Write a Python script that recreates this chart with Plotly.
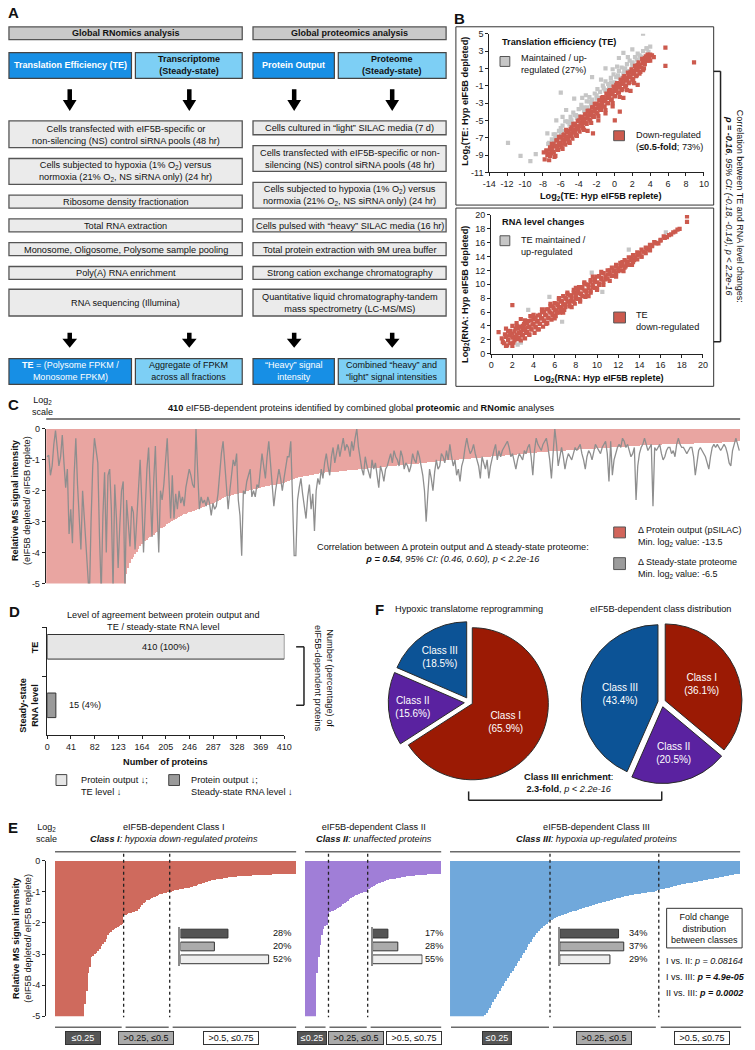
import plotly.graph_objects as go

W, H = 755, 1050
FONT = "Liberation Sans, Arial, sans-serif"

# ======================= DATA =======================
# Panel B (top): log2 TE, hypoxic eIF5B replete (x) vs eIF5B depleted (y)
te_down_pts = [(-7.9,-8.7),(-7.8,-9.5),(-7.6,-8.5),(-7.5,-9.0),(-7.3,-9.6),(-7.2,-8.3),(-7.1,-8.8),(-6.9,-8.0),
    (-6.8,-8.6),(-6.7,-9.2),(-6.5,-7.3),(-6.4,-7.9),(-6.3,-8.4),(-6.1,-7.0),(-6.0,-7.6),(-5.9,-8.1),(-5.7,-6.7),
    (-5.6,-7.2),(-5.5,-7.8),(-5.3,-6.4),(-5.2,-6.9),(-5.1,-7.5),(-4.9,-6.0),(-4.8,-6.5),(-4.7,-7.1),(-4.5,-5.6),
    (-4.4,-6.1),(-4.3,-6.7),(-4.1,-5.1),(-4.0,-5.7),(-3.9,-6.3),(-3.7,-4.7),(-3.6,-5.2),(-3.5,-5.9),(-3.3,-4.3),
    (-3.2,-4.8),(-3.1,-5.4),(-3.0,-6.2),(-2.9,-3.9),(-2.8,-4.4),(-2.7,-5.0),(-2.5,-3.5),(-2.4,-4.0),(-2.3,-4.6),
    (-2.4,-6.5),(-2.1,-3.1),(-2.0,-3.6),(-1.9,-4.2),(-1.8,-5.0),(-1.7,-2.7),(-1.6,-3.2),(-1.5,-3.8),(-1.3,-2.3),
    (-1.2,-2.8),(-1.1,-3.4),(-1.0,-4.2),(-0.9,-1.9),(-0.8,-2.4),(-0.7,-3.0),(-0.5,-1.5),(-0.4,-2.0),(-0.3,-2.6),
    (-0.2,-3.4),(-0.1,-1.1),(0.0,-1.6),(0.04,-5.0),(0.1,-2.2),(0.3,-0.7),(0.4,-1.2),(0.5,-1.8),(0.6,-4.0),
    (0.7,-0.3),(0.8,-0.8),(0.9,-1.4),(1.0,-2.4),(1.1,0.1),(1.2,-0.4),(1.3,-1.0),(1.5,0.5),(1.6,0.0),(1.7,-0.6),
    (1.8,-1.6),(1.9,0.9),(2.0,0.4),(2.1,-0.2),(2.3,1.3),(2.4,0.8),(2.5,0.2),(2.6,-0.9),(2.7,1.7),(2.8,1.2),
    (2.9,0.6),(3.1,2.1),(3.2,1.6),(3.3,1.0),(3.5,2.4),(3.6,1.9),(3.7,2.6),(3.9,2.2),(4.0,1.9),(4.2,2.5),(4.4,2.3),
    (5.7,3.4),(5.7,1.3),(8.9,1.7),(-7.0,-7.7),(-6.2,-6.9),(-5.4,-6.1),(-4.6,-5.4),(-3.8,-4.6),(-3.0,-3.9),
    (-2.2,-3.1),(-1.4,-2.4),(-0.6,-1.6),(0.2,-0.9),(1.0,-0.1),(1.8,0.6),(2.6,1.4),(3.4,2.2),
    (-7.6,-8.5),(-7.2,-8.1),(-6.8,-7.7),(-6.4,-7.3),(-6.0,-6.9),(-5.6,-6.6),(-5.2,-6.2),(-4.8,-5.8),(-4.4,-5.4),
    (-4.0,-5.0),(-3.6,-4.6),(-3.2,-4.3),(-2.8,-3.9),(-2.4,-3.5),(-2.0,-3.1),(-1.6,-2.7),(-1.2,-2.4),(-0.8,-2.0),
    (-0.4,-1.6),(0.0,-1.2),(0.4,-0.8),(0.8,-0.5),(1.2,-0.1),(1.6,0.3),(2.0,0.7),(2.4,1.1),(2.8,1.4),(3.2,1.8),
    (3.6,2.2),(4.0,2.6),
    (-7.4,-8.8),(-7.0,-8.4),(-6.6,-8.0),(-6.2,-7.6),(-5.8,-7.2),(-5.4,-6.9),(-5.0,-6.5),(-4.6,-6.1),(-4.2,-5.7),
    (-3.8,-5.3),(-3.4,-5.0),(-3.0,-4.6),(-2.6,-4.2),(-2.2,-3.8),(-1.8,-3.4),(-1.4,-3.1),(-1.0,-2.7),(-0.6,-2.3),
    (-0.2,-1.9),(0.2,-1.5),(0.6,-1.2),(1.0,-0.8),(1.4,-0.4),(1.8,0.0),(2.2,0.4),(2.6,0.8),(3.0,1.1),(3.4,1.5),
    (3.8,1.9),
    (-7.2,-9.1),(-6.8,-8.7),(-6.4,-8.3),(-6.0,-7.9),(-5.6,-7.6),(-5.2,-7.2),(-4.8,-6.8),(-4.4,-6.4),(-4.0,-6.0),
    (-3.6,-5.6),(-3.2,-5.3),(-2.8,-4.9),(-2.4,-4.5),(-2.0,-4.1),(-1.6,-3.7),(-1.2,-3.4),(-0.8,-3.0),(-0.4,-2.6),
    (0.0,-2.2),(0.4,-1.8),(0.8,-1.5),(1.2,-1.1),(1.6,-0.7),(2.0,-0.3),(2.4,0.1),(2.8,0.4),(3.2,0.8),
    (-6.6,-9.1),(-5.8,-8.3),(-5.0,-7.6),(-4.2,-6.8),(-3.4,-6.1),(-2.6,-5.3),(-1.8,-4.5),(-1.0,-3.8),(-0.2,-3.0),
    (0.6,-2.3),(1.4,-1.5),(2.2,-0.7)]
te_up_pts = [(-7.0,-7.2),(-6.6,-6.6),(-6.2,-6.2),(-5.8,-5.6),(-5.5,-5.1),(-5.2,-5.2),(-4.9,-4.6),(-4.6,-4.1),
    (-4.3,-4.4),(-4.0,-3.7),(-3.7,-3.2),(-3.4,-3.5),(-3.1,-2.8),(-2.8,-2.3),(-2.5,-2.6),(-2.2,-1.9),(-1.9,-1.4),
    (-1.6,-1.7),(-1.3,-1.0),(-1.0,-0.5),(-0.7,-0.8),(-0.4,-0.1),(-0.1,0.3),(0.2,0.0),(0.5,0.7),(0.8,1.1),
    (1.1,0.8),(1.4,1.5),(1.7,1.9),(2.0,1.6),(2.3,2.3),(2.6,2.7),(2.9,2.4),(3.2,3.0),(3.6,3.3),(4.0,3.5),
    (-6.8,-7.3),(-6.0,-6.5),(-5.0,-5.5),(-4.0,-4.5),(-3.0,-3.5),(-2.0,-2.5),(-1.0,-1.5),(0.0,-0.6),(1.0,0.4),
    (2.0,1.3),(3.0,2.3),(-11.9,-7.6),(-10.5,-9.1),(-9.4,-9.7),(-8.8,-8.9),(-6.0,-1.8),(-5.4,-3.8),(-4.5,-2.5),
    (-2.5,0.0),(-1.0,1.0),(0.5,2.2),(3.2,5.0),(-7.5,-6.5),(-6.5,-5.0),(1.0,2.8),(2.0,3.2),(-5.8,-4.6),
    (-3.6,-2.4),(-1.5,-0.3),(0.3,1.2),(1.5,2.3),(-7.3,-7.6),(-4.8,-5.0),(-2.6,-2.9),(-0.6,-1.1),(1.3,0.7),
    (2.5,2.0),(-3.2,-2.1),(-0.2,0.9),
    (-7.4,-7.7),(-6.6,-7.0),(-5.8,-6.2),(-5.0,-5.4),(-4.2,-4.7),(-3.4,-3.9),(-2.6,-3.1),(-1.8,-2.4),(-1.0,-1.6),
    (-0.2,-0.9),(0.6,-0.1),(1.4,0.7),(2.2,1.4),(3.0,2.2),(3.8,2.9),
    (-6.8,-6.6),(-6.0,-5.9),(-5.2,-5.1),(-4.4,-4.4),(-3.6,-3.6),(-2.8,-2.8),(-2.0,-2.1),(-1.2,-1.3),(-0.4,-0.6),
    (0.4,0.2),(1.2,1.0),(2.0,1.7),(2.8,2.5),(3.6,3.3)]
# Panel B (bottom): log2 RNA level, replete (x) vs depleted (y)
rna_down_pts = [(0.7,3.1),(1.0,2.2),(1.1,1.7),(1.3,2.8),(1.4,3.6),(1.6,2.0),(1.7,2.6),(1.8,3.3),(2.0,2.9),
    (2.0,4.0),(2.1,1.6),(2.2,2.4),(2.3,3.6),(2.4,4.4),(2.5,2.1),(2.6,3.0),(2.7,3.9),(2.8,5.0),(2.9,2.6),
    (3.0,3.4),(3.1,4.3),(3.2,2.2),(3.3,3.0),(3.4,3.8),(3.5,4.7),(3.6,2.8),(3.7,5.4),(3.8,3.5),(3.9,4.2),
    (4.0,5.0),(4.1,3.0),(4.2,3.8),(4.3,4.6),(4.4,5.5),(4.5,3.5),(4.6,4.3),(4.7,5.1),(4.8,6.0),(4.9,3.9),
    (5.0,4.8),(5.1,5.6),(5.2,6.4),(5.3,4.4),(5.4,5.2),(5.5,6.1),(5.6,6.9),(5.7,4.9),(5.8,5.7),(5.9,6.6),
    (6.0,7.3),(6.1,5.4),(6.2,6.2),(6.3,7.0),(6.4,7.8),(6.5,5.9),(6.6,6.7),(6.7,7.5),(6.8,8.3),(6.9,6.3),
    (7.0,7.1),(7.1,7.9),(7.2,8.6),(7.4,6.8),(7.5,7.6),(7.6,8.4),(7.8,9.2),(7.9,7.2),(8.0,8.0),(8.1,8.8),
    (8.3,9.6),(8.4,7.8),(8.5,8.6),(8.6,9.4),(8.8,10.1),(8.9,8.2),(9.0,9.1),(9.2,9.9),(9.4,10.6),(9.4,8.8),
    (9.6,9.6),(9.8,10.4),(10.0,11.1),(10.0,9.3),(10.2,10.1),(10.4,10.9),(10.6,11.6),(10.6,9.9),(10.8,10.7),
    (11.0,11.4),(11.2,12.0),(11.2,10.5),(11.4,11.3),(11.6,12.0),(11.8,12.6),(11.8,11.1),(12.0,11.9),(12.2,12.6),
    (12.4,13.2),(12.5,11.9),(12.7,12.6),(12.9,13.3),(13.2,13.8),(13.3,12.8),(13.5,13.5),(13.8,14.2),(14.0,14.5),
    (14.2,14.0),(14.4,14.7),(14.7,15.2),(15.0,15.0),(15.2,15.6),(15.5,16.0),(15.8,15.9),(16.0,16.4),(16.3,16.9),
    (16.6,16.8),(17.0,17.2),(17.4,17.6),(17.8,18.0),(18.5,19.8),(18.5,19.0),(2.0,7.0),(1.5,1.2),
    (1.2,1.5),(1.6,1.9),(2.0,2.3),(2.4,2.7),(2.8,3.1),(3.2,3.5),(3.6,3.9),(4.0,4.3),(4.4,4.7),(4.8,5.1),(5.2,5.5),
    (5.6,5.9),(6.0,6.3),(6.4,6.7),(6.8,7.1),(7.2,7.5),(7.6,7.9),(8.0,8.3),(8.4,8.7),(8.8,9.1),(9.2,9.5),(9.6,9.9),
    (10.0,10.3),(10.4,10.7),(10.8,11.1),(11.2,11.5),(11.6,11.9),(12.0,12.3),(12.4,12.7),(12.8,13.1),(13.2,13.5),
    (13.6,13.9),(14.0,14.3),(14.4,14.7),(14.8,15.1),(15.2,15.5),(15.6,15.9),(16.0,16.3),(16.4,16.7),(16.8,17.1),
    (17.2,17.5),(17.6,17.9),
    (1.4,2.4),(1.8,2.8),(2.2,3.2),(2.6,3.6),(3.0,4.0),(3.4,4.4),(3.8,4.8),(4.2,5.2),(4.6,5.6),(5.0,6.0),(5.4,6.4),
    (5.8,6.8),(6.2,7.2),(6.6,7.6),(7.0,8.0),(7.4,8.4),(7.8,8.8),(8.2,9.2),(8.6,9.6),(9.0,10.0),(9.4,10.4),(9.8,10.8),
    (10.2,11.2),(10.6,11.6),(11.0,12.0),(11.4,12.4),(11.8,12.8),(12.2,13.1),(12.6,13.5),(13.0,13.9),(13.4,14.2),
    (13.8,14.6),(14.2,15.0),(14.6,15.3),(15.0,15.7),(15.4,16.1),
    (1.4,1.1),(1.8,1.5),(2.2,1.9),(2.6,2.3),(3.0,2.7),(3.4,3.1),(3.8,3.5),(4.2,3.9),(4.6,4.3),(5.0,4.7),(5.4,5.1),
    (5.8,5.5),(6.2,5.9),(6.6,6.3),(7.0,6.7),(7.4,7.1),(7.8,7.5),(8.2,7.9),(8.6,8.3),(9.0,8.7),(9.4,9.1),(9.8,9.5),
    (10.2,9.9),(10.6,10.4),(11.0,10.8),(11.4,11.2),(11.8,11.6),(12.2,12.0),(12.6,12.4),(13.0,12.8),(13.4,13.2),
    (13.8,13.6),(14.2,14.0),(14.6,14.5),(15.0,14.9),
    (1.6,3.2),(2.4,4.0),(3.2,4.8),(4.0,5.6),(4.8,6.4),(5.6,7.2),(6.4,8.0),(7.2,8.8),(8.0,9.5),(8.8,10.3),(9.6,11.1),
    (10.4,11.8),(2.0,1.1),(2.8,1.9),(3.6,2.7),(4.4,3.5),(5.2,4.3),(6.0,5.1),(6.8,5.9),(7.6,6.7),(8.4,7.5),(9.2,8.3),
    (10.0,9.2)]
rna_up_pts = [(2.8,1.6),(6.7,4.6),(9.5,11.7),(10.5,8.9),(5.5,8.2),(13.0,15.0),(16.5,17.5),(3.5,6.3),(2.5,1.3)]
te_xticks = [-14, -12, -10, -8, -6, -4, -2, 0, 2, 4, 6, 8, 10]
te_yticks = [-11, -9, -7, -5, -3, -1, 1, 3, 5]
rna_ticks = [0, 2, 4, 6, 8, 10, 12, 14, 16, 18, 20]

# Panel C: 410 eIF5B-dependent proteins (log2 depleted/replete)
protein_output = [
    -13.5,-11.2,-10.1,-9.4,-8.8,-8.3,-7.9,-7.6,-7.3,-7.1,-6.9,-6.7,-6.6,-6.5,-6.4,-6.3,-6.2,-6.1,-6.0,-5.95,
    -5.9,-5.85,-5.8,-5.75,-5.7,-5.65,-5.6,-5.55,-5.5,-5.45,-5.4,-5.38,-5.35,-5.32,-5.3,-5.27,-5.24,-5.21,-5.18,-5.15,
    -5.12,-5.1,-5.08,-5.06,-5.04,-5.02,-5.01,
    -4.7,-4.5,-4.35,-4.22,-4.15,-4.05,-3.97,-3.88,-3.8,-3.72,-3.66,
    -3.62,-3.58,-3.53,-3.49,-3.46,-3.42,-3.37,-3.32,-3.27,-3.22,
    -3.2,-3.17,-3.13,-3.09,-3.05,-3.01,-2.98,-2.95,-2.91,-2.88,-2.84,-2.81,-2.78,
    -2.76,-2.74,-2.72,-2.7,-2.68,-2.66,-2.64,-2.62,-2.6,-2.58,-2.56,-2.54,-2.52,-2.5,-2.47,-2.45,
    -2.44,-2.42,-2.39,-2.36,-2.33,-2.3,-2.27,-2.24,-2.21,-2.18,-2.17,-2.16,-2.14,-2.13,-2.12,-2.1,-2.09,
    -2.08,-2.07,-2.05,-2.04,-2.02,-2.0,-1.99,-1.97,-1.96,-1.94,-1.93,-1.91,-1.9,-1.88,-1.87,-1.86,-1.85,-1.84,
    -1.83,-1.82,-1.81,-1.8,-1.79,-1.78,-1.77,
    -1.76,-1.74,-1.72,-1.7,-1.68,-1.66,-1.64,-1.62,-1.6,-1.58,-1.56,-1.55,-1.54,-1.53,-1.52,-1.51,-1.5,-1.49,
    -1.48,-1.47,-1.46,-1.45,-1.44,-1.43,-1.42,-1.42,-1.41,-1.41,-1.4,-1.4,-1.39,-1.39,-1.38,
    -1.38,-1.37,-1.37,-1.36,-1.35,-1.35,-1.34,-1.34,-1.33,-1.33,-1.32,-1.32,-1.31,-1.31,-1.3,-1.3,-1.29,-1.29,-1.28,
    -1.28,-1.27,-1.27,-1.26,-1.25,-1.25,-1.24,-1.23,-1.23,-1.22,-1.21,-1.21,-1.2,-1.2,-1.19,-1.19,-1.18,-1.18,-1.17,
    -1.17,-1.16,-1.16,-1.15,-1.15,-1.14,-1.13,-1.13,-1.12,-1.12,-1.11,-1.1,-1.1,-1.09,-1.09,-1.08,-1.08,-1.07,-1.07,-1.06,
    -1.06,-1.05,-1.05,-1.04,-1.04,-1.03,-1.02,-1.02,-1.01,-1.01,-1.0,-1.0,-0.99,-0.99,-0.98,-0.98,-0.97,-0.97,-0.96,
    -0.96,-0.96,-0.95,-0.95,-0.94,-0.94,-0.93,-0.93,-0.92,-0.92,-0.91,-0.91,-0.9,-0.9,-0.89,-0.89,-0.88,-0.88,
    -0.87,-0.87,-0.86,-0.86,-0.85,
    -0.85,-0.85,-0.84,-0.84,-0.83,-0.83,-0.82,-0.82,-0.81,-0.81,-0.8,-0.8,-0.79,-0.79,-0.78,-0.78,-0.77,-0.77,
    -0.76,-0.76,-0.75,-0.75,-0.74,
    -0.74,-0.74,-0.73,-0.73,-0.73,-0.72,-0.72,-0.71,-0.71,-0.71,-0.7,-0.7,-0.69,-0.69,-0.69,-0.68,-0.68,-0.67,
    -0.67,-0.67,-0.66,-0.66,-0.66,-0.65,-0.65,-0.65,-0.64,-0.64,-0.64,
    -0.64,-0.63,-0.63,-0.63,-0.62,-0.62,-0.61,-0.61,-0.61,-0.6,-0.6,-0.59,-0.59,-0.59,-0.58,-0.58,-0.57,-0.57,
    -0.57,-0.56,-0.56,-0.55,-0.55,-0.55,-0.54,-0.54,-0.54,-0.53,-0.53,
    -0.53,-0.53,-0.52,-0.52,-0.52,-0.52,-0.51,-0.51,-0.51,-0.51,-0.51,-0.5,-0.5,-0.5,-0.5,-0.5,-0.49,-0.49,
    -0.49,-0.49,-0.49,-0.49,-0.48,-0.48,-0.48,-0.48,-0.48,-0.48,-0.48,
    -0.48,-0.47,-0.47,-0.47,-0.47,-0.46,-0.46,-0.46,-0.46,-0.45,-0.45,-0.45,-0.45,-0.44,-0.44,-0.44,-0.44,-0.43,
    -0.43,-0.43,-0.42,-0.42,-0.42,-0.41,-0.41,-0.41,-0.4,-0.4]
steady_proteome = [
    -0.9,-0.85,-1.5,-1.2,-0.5,-0.05,-0.6,-1.2,-0.9,-0.2, -1.1,-1.9,-1.3,-3.4,-2.6,-3.7,-1.5,-0.3,-1.8,-2.9,
    -3.9,-2.0,-2.8,-3.7,-4.4,-5.5,-3.0,-1.2,-0.3,-0.7, -1.1,-3.5,-5.3,-2.8,-1.4,-4.0,-1.5,-1.3,-2.6,-5.2,
    -1.8,-2.9,-4.5,-3.1,-2.0,-1.7,-5.2,-2.3,-3.0,-3.8, -2.5,-2.7,-3.9,-2.8,-1.9,-1.0,-2.4,-4.0,-2.6,-1.3,
    -0.6,-1.9,-3.5,-1.7,-0.55,-2.5,-4.0,-2.0,-2.3,-1.8, -1.0,-0.3,-1.6,-2.9,-1.5,-2.9,-2.1,-2.6,-2.0,-2.4,
    -2.2,-2.5,-1.9,-1.6,-1.3,-1.5,-1.8,-1.9,0.0,-1.4, -2.6,-2.2,-2.4,-2.3,-2.5,-2.2,-2.4,-2.8,-2.4,-2.6,
    -2.5,-2.1,-1.3,-0.8,-0.4,-1.2,-1.9,-2.6,-2.0,-1.4, -1.0,-1.2,-0.8,-2.3,-2.8,-4.1,-2.0,-2.1,-1.7,-1.5,
    -1.3,-2.2,-2.0,-2.2,-1.8,-1.9,-1.4,-0.8,-1.2,-1.6, -0.9,-0.4,-1.1,-1.8,-2.5,-2.0,-1.7,-1.3,-1.6,-2.0,
    -1.6,-1.2,-0.9,-0.9,-0.4,-2.2,-4.1,-4.1,-2.3,-1.9, -1.6,-2.1,-2.5,-2.9,-2.2,-1.8,-2.6,-2.1,-3.3,-2.0,
    -1.6,-1.8,-1.3,-1.6,-1.1,-0.8,-1.2,-1.5,-0.9,-0.6, -1.1,-0.8,-0.5,-0.9,-0.6,-0.3,-0.7,-0.5,-0.6,-0.9,
    -0.4,-0.7,-0.3,0.0,-0.6,-1.0,-1.3,-1.5,-0.9,-1.2, -1.4,-1.6,-1.0,-1.3,-1.1,-1.5,-1.9,-1.2,-1.4,-1.7,
    -1.3,-1.2,-1.0,-0.8,-1.1,-0.7,-0.9,-1.0,-1.2,-0.7, -0.9,-1.3,-1.1,-1.2,-1.4,-1.2,-0.8,-1.0,-1.1,-0.7,
    -0.9,-1.2,-1.5,-2.0,-3.0,-2.1,-1.3,-1.6,-2.0,-1.4, -1.0,-1.3,-1.2,-0.8,-0.9,-1.1,-0.7,-1.0,-0.5,-0.9,
    -1.2,-1.0,-1.5,-1.3,-1.7,-1.2,-1.0,-0.6,-0.3,-0.6, -0.8,-0.7,-0.5,-0.8,-1.0,-1.2,-1.6,-0.9,-1.1,-1.3,
    -1.0,-1.6,-1.2,-0.9,-0.7,-0.5,-1.0,-0.7,-0.9,-0.7, -0.6,-0.5,-0.4,-0.6,-0.9,-0.8,-1.1,-1.3,-1.0,-0.8,
    -0.9,-1.0,-0.7,-0.8,-0.6,-0.5,-0.9,-1.5,-0.7,-0.3, -0.5,-0.6,-0.7,-0.5,-0.4,-0.3,-0.6,-1.0,-1.6,-0.8,
    0.0,-0.5,-1.2,-0.9,-0.6,-0.9,-1.3,-1.0,-0.8,-0.9, -1.0,-0.8,-0.6,-0.7,-0.6,-0.5,-0.8,-1.0,-1.3,-0.9,
    -0.7,-0.8,-1.0,-0.7,-0.5,-0.6,-0.7,-0.8,-0.6,-0.5, -0.4,-0.8,-1.7,-0.4,-1.5,-1.0,-0.8,-0.6,-0.5,-0.6,
    -0.3,-0.4,-0.6,-0.5,-0.7,-0.9,-0.8,-0.6,-2.3,-1.2, -0.8,-0.6,-0.5,-0.3,-0.5,-0.7,-0.6,-0.5,-2.5,-0.6,
    -0.7,-0.6,-0.5,-0.8,-1.0,-0.9,-0.7,-0.6,-0.6,-0.8, -0.7,-0.9,-0.5,-0.3,-0.5,-0.6,-0.6,-0.7,-0.8,-0.7,
    -0.6,-0.6,-0.9,-1.5,-1.0,-0.7,-0.6,-0.7,-0.8,-0.9, -1.1,-1.3,-0.9,-0.6,-0.5,-0.6,-0.5,-0.6,-0.7,-0.6,
    -0.5,-0.6,-0.8,-1.1,-1.2,-0.7,-0.5,-0.3,-0.5,-0.7]
c_yticks = [0, -1, -2, -3, -4, -5]

# Panel D
agreement_cats = ["TE", "Steady-state<br>RNA level"]
agreement_counts = [410, 15]
agreement_pct = [100, 4]
d_xticks = [0, 41, 82, 123, 164, 205, 246, 287, 328, 369, 410]

# Panel F
pie_classes = ["Class I", "Class II", "Class III"]
pie_colors = ["#9b1a04", "#5a22a0", "#0c5396"]
translatome_pct = [65.9, 15.6, 18.5]
class_dist_pct = [36.1, 20.5, 43.4]

# Panel E
class1_vals = [-10.2,-8.5,-7.6,-7.0,-6.6,-6.3,-6.1,-5.9,-5.8,-5.7,-5.6,-5.5,-5.4,-5.3,-5.2,-5.15,-5.1,-5.05,
    -4.6,-4.2,-3.6,-3.4,-3.1, -3.05,-3.0,-2.95,-2.9,-2.85,-2.75,-2.68,-2.6,
    -2.5,-2.4,-2.32,-2.28,-2.24,-2.2,-2.16,-2.12,-2.09,-2.06,-2.03,
    -1.75,-1.73,-1.71,-1.69,-1.67,-1.66,-1.64,-1.63,-1.6,-1.55,-1.48,-1.42,-1.36,-1.32,-1.27,
    -1.25,-1.22,-1.2,-1.18,-1.15,-1.12,-1.1,-1.08,-1.07,-1.05,-1.04,-1.03,-1.02,-1.01,-1.0,-0.97,
    -0.95,-0.94,-0.93,-0.92,-0.91,-0.9,-0.89,-0.88,-0.87,-0.86,-0.85,-0.84,-0.82,-0.8,-0.78,-0.76,-0.74,-0.72,
    -0.7,-0.69,-0.67,-0.66,-0.64,
    -0.63,-0.62,-0.61,-0.6,-0.59,-0.58,-0.57,-0.56,-0.55,-0.54,-0.53,-0.53,-0.52,-0.52,-0.51,-0.51,-0.5,-0.5,
    -0.5,-0.49,-0.49,-0.49,-0.48,-0.48,-0.48,-0.47,-0.47,-0.47,-0.47,-0.46,-0.46,-0.46,-0.46,-0.45,-0.45,-0.45,
    -0.45,-0.44,-0.44,-0.44,-0.44,-0.43,-0.43,-0.43,-0.43,-0.42,-0.42,-0.42,-0.42,-0.41,-0.41,-0.41]
class2_vals = [-9.1,-7.4,-6.5,-6.0,-5.6,-5.3,-5.1, -3.6,-3.1,-2.7,-2.4,-2.2,-2.1,-2.05,
    -1.72,-1.66,-1.62,-1.6,-1.58,-1.55,-1.52,-1.5,-1.45,-1.4,-1.36,-1.32,-1.28,-1.24,-1.2,-1.17,-1.14,-1.11,
    -1.09,-1.07,-1.05,-1.03,-1.02,-1.01,
    -0.97,-0.92,-0.88,-0.85,-0.82,-0.79,-0.76,-0.73,-0.71,-0.69,-0.67,-0.65,-0.63,-0.62,-0.6,-0.59,-0.58,-0.57,
    -0.56,-0.55,-0.54,-0.53,-0.52,-0.51,-0.5,-0.5,-0.49,-0.49,-0.48,-0.48,-0.47,-0.47,-0.46,-0.46,-0.45,-0.45,
    -0.45,-0.44,-0.44,-0.44,-0.43,-0.43,-0.42,-0.42,-0.42,-0.41]
class3_vals = [-11.0,-9.0,-8.1,-7.5,-7.0,-6.7,-6.4,-6.2,-6.0,-5.85,-5.7,-5.6,-5.5,-5.4,-5.32,-5.25,-5.18,-5.12,
    -5.07,-5.03,-5.01,
    -4.95,-4.88,-4.8,-4.72,-4.64,-4.55,-4.46,-4.37,-4.28,-4.19, -4.1,-4.02,-3.94,-3.86,-3.78,-3.7,-3.62,-3.54,
    -3.46,-3.38, -3.3,-3.21,-3.12,-3.03,-2.95,-2.86,-2.77,-2.68,-2.6,-2.52, -2.45,-2.38,-2.32,-2.26,-2.2,-2.15,
    -2.1,-2.06,-2.02,
    -1.97,-1.94,-1.91,-1.88,-1.85,-1.82,-1.79,-1.77,-1.75,-1.73,-1.71,
    -1.7,-1.68,-1.66,-1.65,-1.63,-1.61,-1.6,-1.58,-1.56,-1.55,-1.53,-1.51,-1.5,-1.48,-1.46,-1.45,-1.43,-1.41,-1.4,-1.38,
    -1.37,-1.36,-1.34,-1.33,-1.31,-1.3,-1.29,-1.27,-1.26,-1.24,-1.23,-1.21,-1.2,-1.19,-1.17,-1.16,-1.14,-1.13,-1.12,-1.11,
    -1.1,-1.09,-1.08,-1.07,-1.06,-1.06,-1.05,-1.04,-1.03,-1.03,-1.02,-1.02,-1.01,-1.01,-1.0,
    -0.97,-0.95,-0.94,-0.92,-0.91,-0.9,-0.88,-0.87,-0.86,-0.84,-0.83,-0.82,-0.8,-0.79,-0.78,
    -0.77,-0.76,-0.75,-0.74,-0.73,-0.72,-0.71,-0.7,-0.69,-0.68,-0.67,-0.66,-0.65,-0.64,-0.63,-0.62,-0.61,-0.6,-0.59,-0.58,
    -0.57,-0.56,-0.55,-0.54,-0.53,-0.52,-0.51,-0.5,-0.49,-0.48,-0.47,-0.46,-0.45,-0.44,-0.43,-0.43,-0.42]
fold_bins = ["\u22640.25", "&gt;0.25, \u22640.5", "&gt;0.5, \u22640.75"]
class1_bin_pct = [28, 20, 52]
class2_bin_pct = [17, 28, 55]
class3_bin_pct = [34, 37, 29]
class_pvals = [("I vs. II", "0.08164", False), ("I vs. III", "4.9e-05", True), ("II vs. III", "0.0002", True)]

# Panel A texts
rn_steps = ["Cells transfected with eIF5B-specific or<br>non-silencing (NS) control siRNA pools (48 hr)",
            "Cells subjected to hypoxia (1% O<sub>2</sub>) versus<br>normoxia (21% O<sub>2</sub>, NS siRNA only) (24 hr)",
            "Ribosome density fractionation", "Total RNA extraction",
            "Monosome, Oligosome, Polysome sample pooling", "Poly(A) RNA enrichment", "RNA sequencing (Illumina)"]
prot_steps = ["Cells cultured in \u201clight\u201d SILAC media (7 d)",
              "Cells transfected with eIF5B-specific or non-<br>silencing (NS) control siRNA pools (48 hr)",
              "Cells subjected to hypoxia (1% O<sub>2</sub>) versus<br>normoxia (21% O<sub>2</sub>, NS siRNA only) (24 hr)",
              "Cells pulsed with \u201cheavy\u201d SILAC media (16 hr)", "Total protein extraction with 9M urea buffer",
              "Strong cation exchange chromatography",
              "Quantitative liquid chromatography-tandem<br>mass spectrometry (LC-MS/MS)"]
top_box_text = ["<b>Translation Efficiency (TE)</b>", "<b>Transcriptome<br>(Steady-state)</b>",
                "<b>Protein Output</b>", "<b>Proteome<br>(Steady-state)</b>"]
bottom_box_text = ["<b>TE</b> = (Polysome FPKM /<br>Monosome FPKM)", "Aggregate of FPKM<br>across all fractions",
                   "\u201cHeavy\u201d signal<br>intensity", "Combined \u201cheavy\u201d and<br>\u201clight\u201d signal intensities"]

# ======================= HELPERS =======================
def px(x):
    return x / W

def py(y):
    return 1 - y / H

shapes = []
annots = []

def rect(x0, y0, x1, y1, fill="rgba(0,0,0,0)", line="#333", lw=1):
    shapes.append(dict(type="rect", xref="paper", yref="paper", x0=px(x0), x1=px(x1), y0=py(y1), y1=py(y0),
                       fillcolor=fill, line=dict(color=line, width=lw)))

def seg(x0, y0, x1, y1, color="#222", lw=1, dash=None):
    ln = dict(color=color, width=lw)
    if dash:
        ln["dash"] = dash
    shapes.append(dict(type="line", xref="paper", yref="paper", x0=px(x0), y0=py(y0), x1=px(x1), y1=py(y1), line=ln))

def text(x, y, s, size=9, color="#111", xanchor="center", yanchor="middle", angle=0, align="center", **kw):
    d = dict(xref="paper", yref="paper", x=px(x), y=py(y), text=s, showarrow=False,
             font=dict(family=FONT, size=size, color=color), xanchor=xanchor, yanchor=yanchor,
             textangle=angle, align=align)
    d.update(kw)
    annots.append(d)

def arrow(cx, y0, y1, hw=7, sw=2.3, hh=10):
    pts = [(cx - sw, y0), (cx + sw, y0), (cx + sw, y1 - hh), (cx + hw, y1 - hh), (cx, y1),
           (cx - hw, y1 - hh), (cx - sw, y1 - hh)]
    path = "M " + " L ".join(f"{px(a):.5f},{py(b):.5f}" for a, b in pts) + " Z"
    shapes.append(dict(type="path", xref="paper", yref="paper", path=path, fillcolor="#000", line=dict(width=0)))

DARKB, LIGHTB = "#178fe5", "#7dcff5"
BOXG, HEADG, EDGE = "#ebebeb", "#c9c9c9", "#555"
FS = 9.2

# ======================= PANEL A =======================
text(7, 8, "<b>A</b>", size=15)
rect(2, 22, 240, 35, HEADG, EDGE, 1.3)
text(121, 28.5, "<b>Global RNomics analysis</b>", size=9)
rect(251, 22, 448, 35, HEADG, EDGE, 1.3)
text(349.5, 28.5, "<b>Global proteomics analysis</b>", size=9)
cols = [(2, 127, DARKB, "white"), (131, 240, LIGHTB, "#111"), (251, 334, DARKB, "white"), (338, 448, LIGHTB, "#111")]
for (x0, x1, fc, tc), t in zip(cols, top_box_text):
    rect(x0, 48, x1, 74, fc, "#444", 1.2)
    text((x0 + x1) / 2, 61, t, size=9, color=tc)
for (x0, x1, fc, tc), t in zip(cols, bottom_box_text):
    rect(x0, 357, x1, 383, fc, "#444", 1.2)
    text((x0 + x1) / 2, 370, t, size=9, color=tc)
for cx in [64, 186, 293, 393]:
    arrow(cx, 85, 107, hw=7, sw=2.3, hh=11)
    arrow(cx, 331, 346, hw=7.5, sw=2.3, hh=9)
rn_rows = [(117, 144), (155, 181), (192, 205), (216, 229), (240, 253), (264, 277), (287, 314)]
prot_rows = [(117, 131), (142, 168), (179, 205), (216, 229), (240, 253), (264, 277), (287, 314)]
for t, (y0, y1) in zip(rn_steps, rn_rows):
    rect(2, y0, 240, y1, BOXG, EDGE, 1.3)
    text(121, (y0 + y1) / 2 + 0.5, t, size=9.2)
for t, (y0, y1) in zip(prot_steps, prot_rows):
    rect(251, y0, 448, y1, BOXG, EDGE, 1.3)
    text(349.5, (y0 + y1) / 2 + 0.5, t, size=9.2)

# ======================= PANEL B =======================
RED, LGRAY = "#cc5a4e", "#c6c6c6"
text(462, 14, "<b>B</b>", size=15)
rect(458, 22, 721, 202, "rgba(0,0,0,0)", "#333", 1)
rect(458, 205, 721, 385, "rgba(0,0,0,0)", "#333", 1)
text(503, 37, "<b>Translation efficiency (TE)</b>", size=FS, xanchor="left")
rect(503, 52, 513, 62, LGRAY, EDGE, 1)
text(522, 60, "Maintained / up-<br>regulated (27%)", size=FS, xanchor="left", align="left")
rect(619, 127, 630, 137, RED, EDGE, 1)
text(640, 137.5, "Down-regulated<br>(<b>\u22640.5-fold</b>; 73%)", size=FS, xanchor="left", align="left")
text(606, 193, "<b>Log<sub>2</sub>(TE: Hyp eIF5B replete)</b>", size=FS)
text(467, 97, "<b>Log<sub>2</sub>(TE: Hyp eIF5B depleted)</b>", size=FS, angle=-90)
text(503, 219, "<b>RNA level changes</b>", size=FS, xanchor="left")
rect(503, 233, 513, 243, LGRAY, EDGE, 1)
text(522, 243, "TE maintained /<br>up-regulated", size=FS, xanchor="left", align="left")
rect(619, 310, 631, 321, RED, EDGE, 1)
text(640, 319.5, "TE<br>down-regulated", size=FS, xanchor="left", align="left")
text(604, 377, "<b>Log<sub>2</sub>(RNA: Hyp eIF5B replete)</b>", size=FS)
text(467, 292, "<b>Log<sub>2</sub>(RNA: Hyp eIF5B depleted)</b>", size=FS, angle=-90)
seg(728, 67, 728, 340, lw=1.5)
seg(721, 67, 728, 67, lw=1.5)
seg(721, 340, 728, 340, lw=1.5)
text(742, 203, "Correlation between TE and RNA level changes:<br><b><i>\u03c1 = -0.16</i></b><i>, 95% CI: (-0.18, -0.14), p &lt; 2.2e-16</i>",
     size=9, angle=90)

# ======================= PANEL C =======================
text(7, 403, "<b>C</b>", size=15)
text(36, 405, "Log<sub>2</sub><br>scale", size=9)
text(362, 407, "<b>410</b> eIF5B-dependent proteins identified by combined global <b>proteomic</b> and <b>RNomic</b> analyses", size=FS)
seg(40, 418, 748, 418, color="#555", lw=1.5)
text(15, 500, "<b>Relative MS signal intensity</b><br>(eIF5B depleted/ eIF5B replete)", size=FS, angle=-90)
text(455, 553.5, "Correlation between \u0394 protein output and \u0394 steady-state proteome:<br><b><i>\u03c1 = 0.54</i></b><i>, 95% CI: (0.46, 0.60), p &lt; 2.2e-16</i>", size=FS)
rect(619, 527, 631, 538, "#d2655b", EDGE, 1)
text(642, 536.5, "\u0394 Protein output (pSILAC)<br>Min. log<sub>2</sub> value: -13.5", size=9, xanchor="left", align="left")
rect(619, 558, 631, 570, "#9c9c9c", EDGE, 1)
text(642, 568.5, "\u0394 Steady-state proteome<br>Min. log<sub>2</sub> value: -6.5", size=9, xanchor="left", align="left")

# ======================= PANEL D =======================
text(8, 612, "<b>D</b>", size=15)
text(160, 622, "Level of agreement between protein output and<br>TE / steady-state RNA level", size=FS)
text(28, 648, "<b>" + agreement_cats[0] + "</b>", size=FS, angle=-90)
text(23, 707, "<b>" + agreement_cats[1] + "</b>", size=FS, angle=-90)
text(162, 764, "<b>Number of proteins</b>", size=FS)
seg(303, 648, 303, 707, lw=1.5)
seg(295, 648, 303, 648, lw=1.5)
seg(295, 707, 303, 707, lw=1.5)
text(324, 680, "Number (percentage) of<br>eIF5B-dependent proteins", size=FS, angle=90)
rect(50, 777, 61, 788, "#e6e6e6", "#444", 1)
text(73, 789, "Protein output \u2193;<br>TE level \u2193", size=FS, xanchor="left", align="left")
rect(165, 777, 176, 788, "#9a9a9a", "#444", 1)
text(186, 789, "Protein output \u2193;<br>Steady-state RNA level \u2193", size=FS, xanchor="left", align="left")

# ======================= PANEL F =======================
text(380, 610, "<b>F</b>", size=15)
text(471, 610, "Hypoxic translatome reprogramming", size=FS)
text(667, 610, "eIF5B-dependent class distribution", size=FS)
text(573, 785, "<b>Class III enrichment</b>:<br><b>2.3-fold</b>, <i>p &lt; 2.2e-16</i>", size=FS)
seg(471, 803, 668, 803, lw=1.5)
seg(471, 794, 471, 803, lw=1.5)
seg(668, 794, 668, 803, lw=1.5)

# ======================= PANEL E =======================
text(6, 830, "<b>E</b>", size=15)
text(40, 836, "Log<sub>2</sub><br>scale", size=9)
text(170, 836, "eIF5B-dependent Class I<br><b><i>Class I</i></b><i>: hypoxia down-regulated proteins</i>", size=FS)
text(374, 836, "eIF5B-dependent Class II<br><b><i>Class II</i></b><i>: unaffected proteins</i>", size=FS)
text(601, 836, "eIF5B-dependent Class III<br><b><i>Class III</i></b><i>: hypoxia up-regulated proteins</i>", size=FS)
for x0, x1 in [(49, 295), (304, 443), (452, 748)]:
    seg(x0, 855, x1, 855, color="#6a6a6a", lw=1.5)
text(15, 942, "<b>Relative MS signal intensity</b><br>(eIF5B depleted/ eIF5B replete)", size=FS, angle=-90)
for xd in [119, 166, 328, 368, 554, 665]:
    seg(xd, 857, xd, 1022, color="#222", lw=1.3, dash="dot")
for x0, x1 in [(49, 117), (121, 165), (169, 295), (304, 325), (329, 367), (371, 443), (453, 553), (557, 662), (667, 749)]:
    seg(x0, 1032, x1, 1032, color="#6a6a6a", lw=1.5)
bin_style = [("#555555", "white"), ("#aaaaaa", "#111"), ("#ffffff", "#111")]
bin_boxes = [(78, 32), (142, 52), (229, 52), (311, 26), (356, 52), (415, 52), (500, 26), (609, 52), (709, 52)]
for i, (cx, wd) in enumerate(bin_boxes):
    bg, fc = bin_style[i % 3]
    text(cx, 1043, fold_bins[i % 3], size=9, color=fc, bgcolor=bg, bordercolor="#333", borderwidth=1,
         borderpad=1, width=wd)
for pcts, xr in [(class1_bin_pct, 292), (class2_bin_pct, 447), (class3_bin_pct, 655)]:
    for j, v in enumerate(pcts):
        text(xr, 937 + 13 * j, f"{v}%", size=FS, xanchor="right")
rect(673, 912, 750, 952, "white", "#333", 1)
text(711.5, 932, "Fold change<br>distribution<br>between classes", size=9)
for j, (lab, pv, bold) in enumerate(class_pvals):
    ptxt = f"<i>p = {pv}</i>"
    if bold:
        ptxt = f"<b>{ptxt}</b>"
    text(670, 965 + 16 * j, f"{lab}: {ptxt}", size=9, xanchor="left")

# ======================= TRACES =======================
fig = go.Figure()
sc = dict(mode="markers", showlegend=False, hoverinfo="skip")
MS = 4.2
fig.add_trace(go.Scatter(x=[p[0] for p in te_up_pts], y=[p[1] for p in te_up_pts],
                         marker=dict(color=LGRAY, size=MS, symbol="square"), xaxis="x", yaxis="y", **sc))
fig.add_trace(go.Scatter(x=[p[0] for p in te_down_pts], y=[p[1] for p in te_down_pts],
                         marker=dict(color=RED, size=MS, symbol="square"), xaxis="x", yaxis="y", **sc))
fig.add_trace(go.Scatter(x=[p[0] for p in rna_up_pts], y=[p[1] for p in rna_up_pts],
                         marker=dict(color=LGRAY, size=MS, symbol="square"), xaxis="x2", yaxis="y2", **sc))
fig.add_trace(go.Scatter(x=[p[0] for p in rna_down_pts], y=[p[1] for p in rna_down_pts],
                         marker=dict(color=RED, size=MS, symbol="square"), xaxis="x2", yaxis="y2", **sc))

n_c = len(protein_output)
fig.add_trace(go.Bar(x=list(range(n_c)), y=protein_output, marker=dict(color="#e9a5a1", line=dict(width=0)),
                     xaxis="x3", yaxis="y3", showlegend=False, hoverinfo="skip"))
fig.add_trace(go.Scatter(x=list(range(len(steady_proteome))), y=steady_proteome, mode="lines",
                         line=dict(color="#8e8e8e", width=1.3), xaxis="x3", yaxis="y3", showlegend=False,
                         hoverinfo="skip"))

d_pos = [len(agreement_counts) - 1 - i for i in range(len(agreement_counts))]
fig.add_trace(go.Bar(x=agreement_counts, y=d_pos, orientation="h", width=0.42,
                     marker=dict(color=["#e6e6e6", "#9a9a9a"], line=dict(color="#333", width=1)),
                     xaxis="x4", yaxis="y4", showlegend=False, hoverinfo="skip"))
for c, p, yp in zip(agreement_counts, agreement_pct, d_pos):
    if c > 100:
        annots.append(dict(xref="x4", yref="y4", x=c / 2, y=yp, text=f"{c} ({p}%)", showarrow=False,
                           font=dict(family=FONT, size=FS, color="#111")))
    else:
        annots.append(dict(xref="x4", yref="y4", x=c + 20, y=yp, text=f"{c} ({p}%)", showarrow=False,
                           xanchor="left", font=dict(family=FONT, size=FS, color="#111")))

for vals, col, ax in [(class1_vals, "#cf6a5d", "5"), (class2_vals, "#a07ed7", "6"), (class3_vals, "#70a8db", "7")]:
    fig.add_trace(go.Bar(x=list(range(len(vals))), y=vals, marker=dict(color=col, line=dict(width=0)),
                         xaxis="x" + ax, yaxis="y" + ax, showlegend=False, hoverinfo="skip"))
for pcts, ax in [(class1_bin_pct, "8"), (class2_bin_pct, "9"), (class3_bin_pct, "10")]:
    fig.add_trace(go.Bar(x=pcts, y=[2, 1, 0], orientation="h", width=0.68,
                         marker=dict(color=["#555555", "#ababab", "#eeeeee"], line=dict(color="#333", width=1)),
                         xaxis="x" + ax, yaxis="y" + ax, showlegend=False, hoverinfo="skip"))

for vals, pull, dom in [(translatome_pct, [0.04, 0.07, 0.07], (389, 555)), (class_dist_pct, [0.05, 0.06, 0.05], (585, 751))]:
    fig.add_trace(go.Pie(labels=pie_classes, values=vals, sort=False, direction="clockwise", rotation=0,
                         marker=dict(colors=pie_colors, line=dict(color="#2a2a2a", width=1)), pull=pull,
                         text=[f"{c}<br>({v}%)" for c, v in zip(pie_classes, vals)], textinfo="text",
                         textposition="inside", insidetextorientation="horizontal",
                         insidetextfont=dict(family=FONT, size=10, color="white"),
                         domain=dict(x=[px(dom[0]), px(dom[1])], y=[py(787), py(621)]),
                         showlegend=False, hoverinfo="skip"))

# ======================= AXES =======================
tickf = dict(family=FONT, size=9, color="#222")

def ax(domain, rng, anchor, **kw):
    d = dict(domain=domain, range=rng, anchor=anchor, showgrid=False, zeroline=False, showline=False, ticks="",
             showticklabels=False, fixedrange=True)
    d.update(kw)
    return d

def lined(vals, lw=1):
    return dict(showline=True, linecolor="#222", linewidth=lw, ticks="outside", ticklen=3, tickcolor="#222",
                tickwidth=1, showticklabels=True, tickfont=tickf, tickvals=vals, ticktext=[str(v) for v in vals])

layout = dict(
    width=W, height=H, margin=dict(l=0, r=0, t=0, b=0, pad=0), autosize=False,
    paper_bgcolor="white", plot_bgcolor="rgba(0,0,0,0)", showlegend=False, bargap=0, hovermode=False,
    font=dict(family=FONT, size=9, color="#111"), shapes=shapes, annotations=annots,
    xaxis=ax([px(492), px(711)], [-14, 10], "y", **lined(te_xticks)),
    yaxis=ax([py(169), py(29)], [-11, 5], "x", **lined(te_yticks)),
    xaxis2=ax([px(494), px(710)], [0, 20], "y2", **lined(rna_ticks)),
    yaxis2=ax([py(352), py(212)], [0, 20], "x2", **lined(rna_ticks)),
    xaxis3=ax([px(40), px(748)], [-0.5, n_c - 0.5], "y3"),
    yaxis3=ax([py(584), py(428)], [-5, 0], "x3", **lined(c_yticks, 1.5)),
    xaxis4=ax([px(41), px(283)], [0, 410], "y4", **lined(d_xticks)),
    yaxis4=ax([py(737), py(628)], [-0.507, 1.338], "x4", showline=True, linecolor="#222", linewidth=1,
              ticks="outside", ticklen=4, tickcolor="#222", tickvals=[0.5, 1.338]),
    xaxis5=ax([px(40), px(295)], [-5.9, len(class1_vals) - 0.5], "y5"),
    yaxis5=ax([py(1021), py(864)], [-5, 0], "x5", **lined(c_yticks, 1.2)),
    xaxis6=ax([px(304), px(443)], [-0.5, len(class2_vals) - 0.5], "y6"),
    yaxis6=ax([py(1021), py(864)], [-5, 0], "x6"),
    xaxis7=ax([px(452), px(748)], [-0.5, len(class3_vals) - 0.5], "y7"),
    yaxis7=ax([py(1021), py(864)], [-5, 0], "x7"),
    xaxis8=ax([px(177), px(269)], [0, 53.2], "y8"),
    yaxis8=ax([py(970), py(931)], [-0.5, 2.5], "x8", showline=True, linecolor="#8a8a8a", linewidth=2),
    xaxis9=ax([px(373), px(424)], [0, 55.5], "y9"),
    yaxis9=ax([py(970), py(931)], [-0.5, 2.5], "x9", showline=True, linecolor="#8a8a8a", linewidth=2),
    xaxis10=ax([px(564), px(631)], [0, 38], "y10"),
    yaxis10=ax([py(970), py(931)], [-0.5, 2.5], "x10", showline=True, linecolor="#8a8a8a", linewidth=2),
)
fig.update_layout(**layout)
fig.write_html("out.html", config={"displayModeBar": False, "staticPlot": True},
               post_script="document.body.style.margin='0px';document.body.style.overflow='hidden';")
